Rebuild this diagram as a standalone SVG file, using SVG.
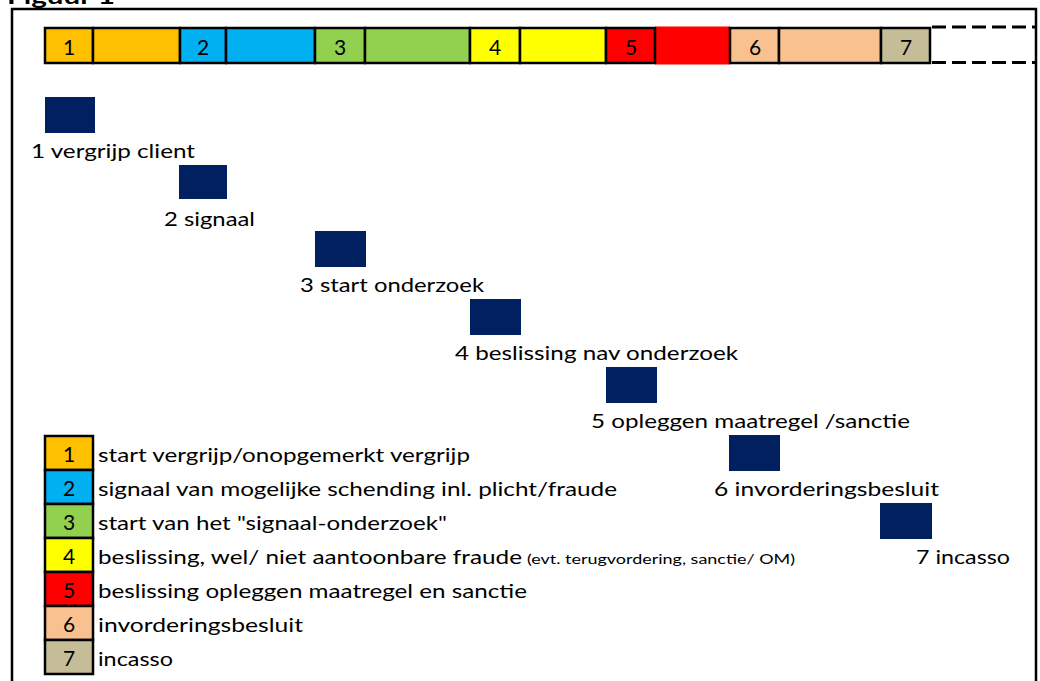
<svg xmlns="http://www.w3.org/2000/svg" width="1040" height="681" viewBox="0 0 1040 681">
<style>
text{font-family:Lato,"Open Sans","Liberation Sans",sans-serif;fill:#000}
.t{font-size:20px}
.s{font-size:13px}
.num{font-size:21px;text-anchor:middle}
.cell{stroke:#000;stroke-width:2.5}
.nv{fill:#002060}
.frame{stroke:#000;stroke-width:2.5;fill:none}
.dash{stroke:#000;stroke-width:3;stroke-dasharray:14 6;fill:none}
</style>
<rect width="1040" height="681" fill="#fff"/>
<text x="7" y="4" textLength="108" lengthAdjust="spacingAndGlyphs" style="font-weight:bold;font-size:22px">Figuur 1</text>
<path class="frame" d="M12,681 V9 H1036 V681"/>

<g id="timeline">
<rect class="cell" x="45" y="28" width="48" height="35" fill="#FFC000"/>
<rect class="cell" x="93" y="28" width="87" height="35" fill="#FFC000"/>
<rect class="cell" x="180" y="28" width="46" height="35" fill="#00B0F0"/>
<rect class="cell" x="226" y="28" width="89" height="35" fill="#00B0F0"/>
<rect class="cell" x="315" y="28" width="50" height="35" fill="#92D050"/>
<rect class="cell" x="365" y="28" width="105" height="35" fill="#92D050"/>
<rect class="cell" x="470" y="28" width="50" height="35" fill="#FFFF00"/>
<rect class="cell" x="520" y="28" width="86" height="35" fill="#FFFF00"/>
<rect x="655" y="26.5" width="75" height="38" fill="#FF0000"/>
<rect class="cell" x="606" y="28" width="49" height="35" fill="#FF0000"/>
<rect class="cell" x="730" y="28" width="49" height="35" fill="#F9C18F"/>
<rect class="cell" x="779" y="28" width="102" height="35" fill="#F9C18F"/>
<rect class="cell" x="881" y="28" width="49" height="35" fill="#C4BD97"/>
<path class="dash" d="M932,27 H1036 M932,62.5 H1036"/>
<text class="num" x="69" y="55">1</text>
<text class="num" x="203" y="55">2</text>
<text class="num" x="340" y="55">3</text>
<text class="num" x="495" y="55">4</text>
<text class="num" x="631" y="55">5</text>
<text class="num" x="755" y="55">6</text>
<text class="num" x="906" y="55">7</text>
</g>

<g id="step1"><rect class="nv" x="45" y="97" width="50" height="36"/><text class="t" x="31" y="158" textLength="164" lengthAdjust="spacingAndGlyphs">1 vergrijp client</text></g>
<g id="step2"><rect class="nv" x="179" y="165" width="48" height="34"/><text class="t" x="164" y="226" textLength="91" lengthAdjust="spacingAndGlyphs">2 signaal</text></g>
<g id="step3"><rect class="nv" x="315" y="231" width="51" height="36"/><text class="t" x="300" y="292" textLength="184" lengthAdjust="spacingAndGlyphs">3 start onderzoek</text></g>
<g id="step4"><rect class="nv" x="470" y="299" width="51" height="36"/><text class="t" x="455" y="360" textLength="283" lengthAdjust="spacingAndGlyphs">4 beslissing nav onderzoek</text></g>
<g id="step5"><rect class="nv" x="606" y="367" width="51" height="36"/><text class="t" x="591" y="428" textLength="319" lengthAdjust="spacingAndGlyphs">5 opleggen maatregel /sanctie</text></g>
<g id="step6"><rect class="nv" x="729" y="435" width="51" height="36"/><text class="t" x="714" y="496" textLength="225" lengthAdjust="spacingAndGlyphs">6 invorderingsbesluit</text></g>
<g id="step7"><rect class="nv" x="880" y="503" width="52" height="36"/><text class="t" x="916" y="564" textLength="94" lengthAdjust="spacingAndGlyphs">7 incasso</text></g>

<g id="legend">
<rect class="cell" x="45" y="436" width="48" height="34" fill="#FFC000"/>
<rect class="cell" x="45" y="470" width="48" height="34" fill="#00B0F0"/>
<rect class="cell" x="45" y="504" width="48" height="34" fill="#92D050"/>
<rect class="cell" x="45" y="538" width="48" height="34" fill="#FFFF00"/>
<rect class="cell" x="45" y="572" width="48" height="34" fill="#FF0000"/>
<rect class="cell" x="45" y="606" width="48" height="34" fill="#F9C18F"/>
<rect class="cell" x="45" y="640" width="48" height="34" fill="#C4BD97"/>
<text class="num" x="69" y="462">1</text>
<text class="num" x="69" y="496">2</text>
<text class="num" x="69" y="530">3</text>
<text class="num" x="69" y="564">4</text>
<text class="num" x="69" y="598">5</text>
<text class="num" x="69" y="632">6</text>
<text class="num" x="69" y="666">7</text>
<text class="t" x="98" y="462" textLength="372" lengthAdjust="spacingAndGlyphs">start vergrijp/onopgemerkt vergrijp</text>
<text class="t" x="98" y="496" textLength="519" lengthAdjust="spacingAndGlyphs">signaal van mogelijke schending inl. plicht/fraude</text>
<text class="t" x="98" y="530" textLength="349" lengthAdjust="spacingAndGlyphs">start van het "signaal-onderzoek"</text>
<text class="t" x="98" y="564" textLength="424" lengthAdjust="spacingAndGlyphs">beslissing, wel/ niet aantoonbare fraude</text>
<text class="s" x="527" y="564" textLength="268" lengthAdjust="spacingAndGlyphs">(evt. terugvordering, sanctie/ OM)</text>
<text class="t" x="98" y="598" textLength="429" lengthAdjust="spacingAndGlyphs">beslissing opleggen maatregel en sanctie</text>
<text class="t" x="98" y="632" textLength="205" lengthAdjust="spacingAndGlyphs">invorderingsbesluit</text>
<text class="t" x="98" y="666" textLength="75" lengthAdjust="spacingAndGlyphs">incasso</text>
</g>
</svg>
